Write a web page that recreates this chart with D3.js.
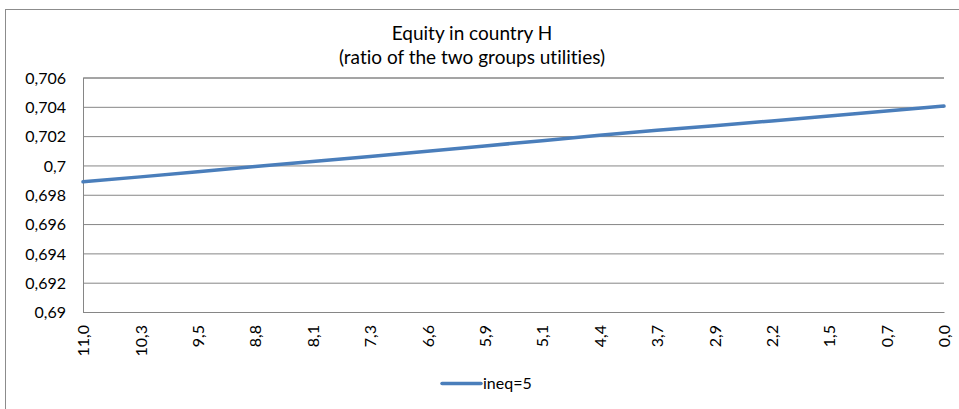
<!DOCTYPE html>
<html>
<head>
<meta charset="utf-8">
<script src="https://cdn.jsdelivr.net/npm/d3@7"></script>
<style>
    body { margin:0; background:#fff; }
    svg { display:block; font-family: Lato, "Open Sans", sans-serif; font-variant-ligatures: none; }
</style>
</head>
<body>
<svg class="graph1"></svg>
<script>
// categories on the x axis (as printed)
var categories = ["11,0","10,3","9,5","8,8","8,1","7,3","6,6","5,9","5,1","4,4","3,7","2,9","2,2","1,5","0,7","0,0"];
// series values, ineq=5
var ineq5 = [0.69888,0.69922,0.69957,0.69992,0.70027,0.70061,0.70097,0.70133,0.70169,0.70206,0.70240,0.70270,0.70304,0.70338,0.70371,0.70405];
var yTicks = [0.69,0.692,0.694,0.696,0.698,0.7,0.702,0.704,0.706];
var seriesName = "ineq=5";
var titleLines = ["Equity in country H","(ratio of the two groups utilities)"];

var makeTranslateString = function(x,y)
{
    return "translate("+x+","+y+")";
}

var locale = d3.formatLocale({decimal:",", thousands:".", grouping:[3], currency:["",""]});
var fmt = locale.format("~g");
var fontFamily = "Lato, 'Open Sans', sans-serif";

var initGraph = function()
{
    var screen = {width:959,height:409}
    var margins = {left:83,right:15,top:77.5,bottom:97}

    var graph =
        {
            width:screen.width-margins.left-margins.right,
            height:screen.height-margins.top-margins.bottom
        }

    var svg = d3.select(".graph1")
    .attr("width",screen.width)
    .attr("height",screen.height)

    // chart border
    svg.append("rect")
    .attr("x",5.5)
    .attr("y",9.5)
    .attr("width",screen.width)
    .attr("height",screen.height)
    .attr("fill","none")
    .attr("stroke","#8c8c8c")

    var xScale = d3.scalePoint()
        .domain(categories)
        .range([0,graph.width])

    var yScale = d3.scaleLinear()
        .domain([0.69,0.706])
        .range([graph.height,0])

    var target = svg.append("g")
    .attr("transform",makeTranslateString(margins.left,margins.top))

    // y axis with gridlines
    var yAxis = d3.axisLeft(yScale)
        .tickValues(yTicks)
        .tickSize(-graph.width)
        .tickPadding(17)
        .tickFormat(fmt)

    var yg = target.append("g")
    .call(yAxis)
    .attr("font-family",fontFamily)
    .attr("font-size",16)
    yg.select(".domain").attr("stroke","#868686")
    yg.selectAll(".tick line").attr("stroke","#868686")
    yg.selectAll(".tick text").attr("dy","0.36em").attr("fill","#000")

    // x axis
    var xAxis = d3.axisBottom(xScale).tickSize(0).tickPadding(0)
    var xg = target.append("g")
    .attr("transform",makeTranslateString(0,graph.height))
    .call(xAxis)
    .attr("font-family",fontFamily)
    .attr("font-size",16)
    xg.select(".domain").attr("stroke","#868686")
    xg.selectAll(".tick text")
    .attr("transform","translate(0,13) rotate(-90)")
    .attr("text-anchor","end")
    .attr("dy","0.36em")
    .attr("x",0)
    .attr("y",0)
    .attr("fill","#000")

    // series line
    var line = d3.line()
        .x(function(d,i){ return xScale(categories[i]); })
        .y(function(d){ return yScale(d); })

    target.append("path")
    .datum(ineq5)
    .attr("d",line)
    .attr("fill","none")
    .attr("stroke","#4a7ebb")
    .attr("stroke-width",3.5)
    .attr("stroke-linecap","round")
    .attr("stroke-linejoin","round")

    // title
    var labels = svg.append("g")
    labels.selectAll("text")
    .data(titleLines)
    .enter()
    .append("text")
    .attr("font-family",fontFamily)
    .attr("font-size",19)
    .attr("text-anchor","middle")
    .attr("x",472)
    .attr("y",function(d,i){ return 40+i*24; })
    .text(function(d){ return d; })

    // legend
    var legend = svg.append("g")
    legend.append("line")
    .attr("x1",442).attr("x2",481)
    .attr("y1",383.5).attr("y2",383.5)
    .attr("stroke","#4a7ebb")
    .attr("stroke-width",3.5)
    .attr("stroke-linecap","round")
    legend.append("text")
    .attr("font-family",fontFamily)
    .attr("font-size",16)
    .attr("x",483)
    .attr("y",383.5)
    .attr("dy","0.36em")
    .text(seriesName)
}

initGraph();
</script>
</body>
</html>
